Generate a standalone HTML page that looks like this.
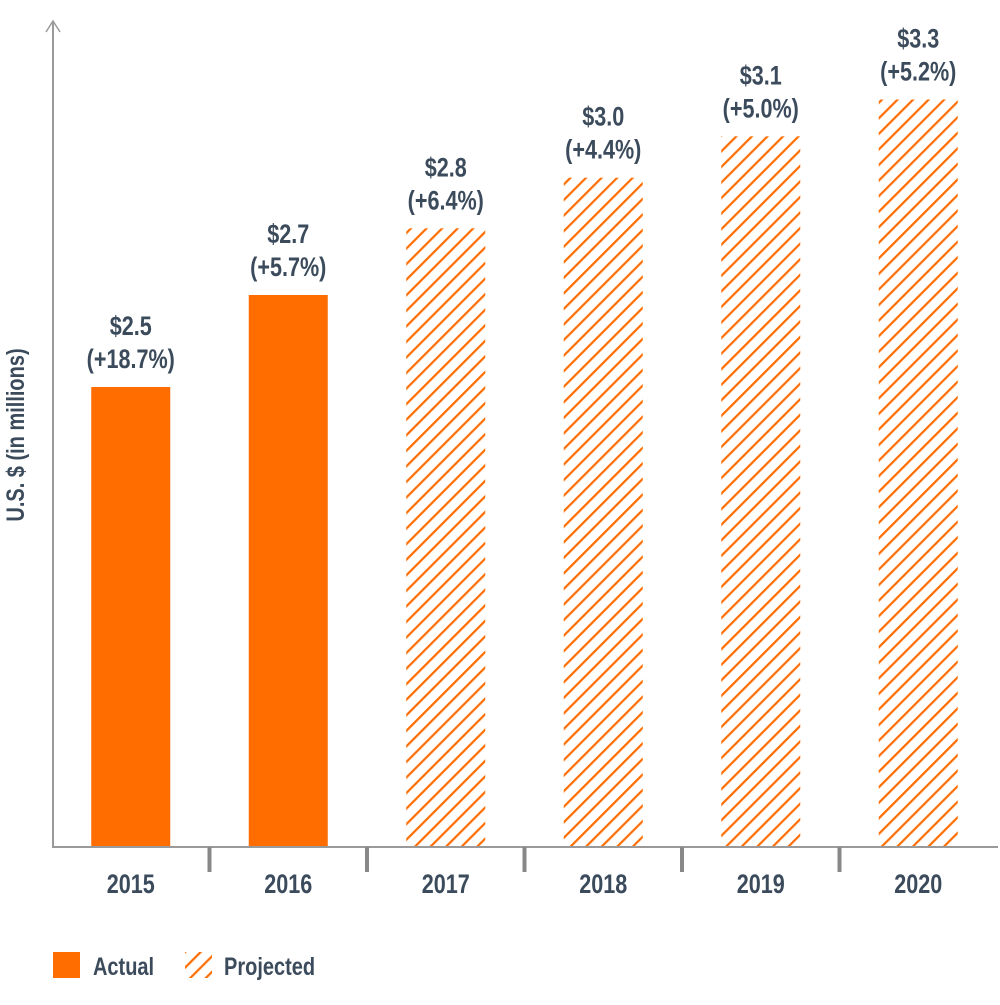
<!DOCTYPE html>
<html><head><meta charset="utf-8"><style>
html,body{margin:0;padding:0;background:#fff;}
svg text{font-family:"Liberation Sans Narrow","Liberation Sans",sans-serif;fill:#3b4b5c;}
</style></head><body>
<svg id="chart" width="1000" height="1000" viewBox="0 0 1000 1000" xmlns="http://www.w3.org/2000/svg">
<defs>
<pattern id="hatch" patternUnits="userSpaceOnUse" width="11" height="11" patternTransform="rotate(45)">
<rect width="11" height="11" fill="#fff"/>
<rect x="0" y="0" width="2.2" height="11" fill="#ff6d00"/>
</pattern>
</defs>
<g id="bars"></g>
<g id="labels"></g>
<line x1="53" y1="22" x2="53" y2="847" stroke="#9a9a9a" stroke-width="2"/>
<polyline points="46,32 53,21 60,32" fill="none" stroke="#9a9a9a" stroke-width="1.5"/>
<line x1="52" y1="847" x2="998" y2="847" stroke="#9a9a9a" stroke-width="2"/>
<g id="ticks"></g>
<text transform="translate(24,435) rotate(-90) scale(0.8,1)" text-anchor="middle" font-size="25" font-weight="bold">U.S. $ (in millions)</text>
<rect x="53" y="952" width="27" height="26" fill="#ff6d00"/>
<text transform="translate(93,975) scale(0.8,1)" font-size="25" font-weight="bold">Actual</text>
<rect x="185" y="952" width="27" height="26" fill="url(#hatch)"/>
<text transform="translate(224,975) scale(0.8,1)" font-size="25" font-weight="bold">Projected</text>
</svg>
<script>
const categories=["2015","2016","2017","2018","2019","2020"];
const values=[2.0,2.4,2.69,2.91,3.09,3.25];
const valueLabels=["$2.5","$2.7","$2.8","$3.0","$3.1","$3.3"];
const growthLabels=["(+18.7%)","(+5.7%)","(+6.4%)","(+4.4%)","(+5.0%)","(+5.2%)"];
const projected=[false,false,true,true,true,true];
const NS="http://www.w3.org/2000/svg";
const baseY=847, unit=230, x0=53, step=157.5, barW=79;
function yScale(v){return baseY-v*unit;}
function xCenter(i){return x0+step*(i+0.5)-1;}
const gb=document.getElementById('bars'), gl=document.getElementById('labels'), gt=document.getElementById('ticks');
function txt(parent,x,y,s,size){const t=document.createElementNS(NS,'text');t.setAttribute('transform','translate('+x+','+y+') scale(0.8,1)');t.setAttribute('text-anchor','middle');t.setAttribute('font-size',size);t.setAttribute('font-weight','bold');t.textContent=s;parent.appendChild(t);return t;}
categories.forEach((c,i)=>{
 const cx=xCenter(i), top=yScale(values[i]);
 const r=document.createElementNS(NS,'rect');
 
 
 r.setAttribute('x',cx-barW/2);r.setAttribute('y',top);r.setAttribute('width',barW);r.setAttribute('height',baseY-top);
 r.setAttribute('fill',projected[i]?'url(#hatch)':'#ff6d00');
 gb.appendChild(r);
 const a=txt(gl,cx,top-52,valueLabels[i],27);
 
 
 const b=txt(gl,cx,top-19,growthLabels[i],27);
 
 
 const y=txt(gl,cx,893,c,27);
 
 
 if(i<categories.length-1){
  const t=document.createElementNS(NS,'rect');
  
  
  t.setAttribute('x',x0+step*(i+1)-1-2);t.setAttribute('y',847);t.setAttribute('width',4);t.setAttribute('height',25);t.setAttribute('fill','#888');
  gt.appendChild(t);
 }
});
</script>
</body></html>
